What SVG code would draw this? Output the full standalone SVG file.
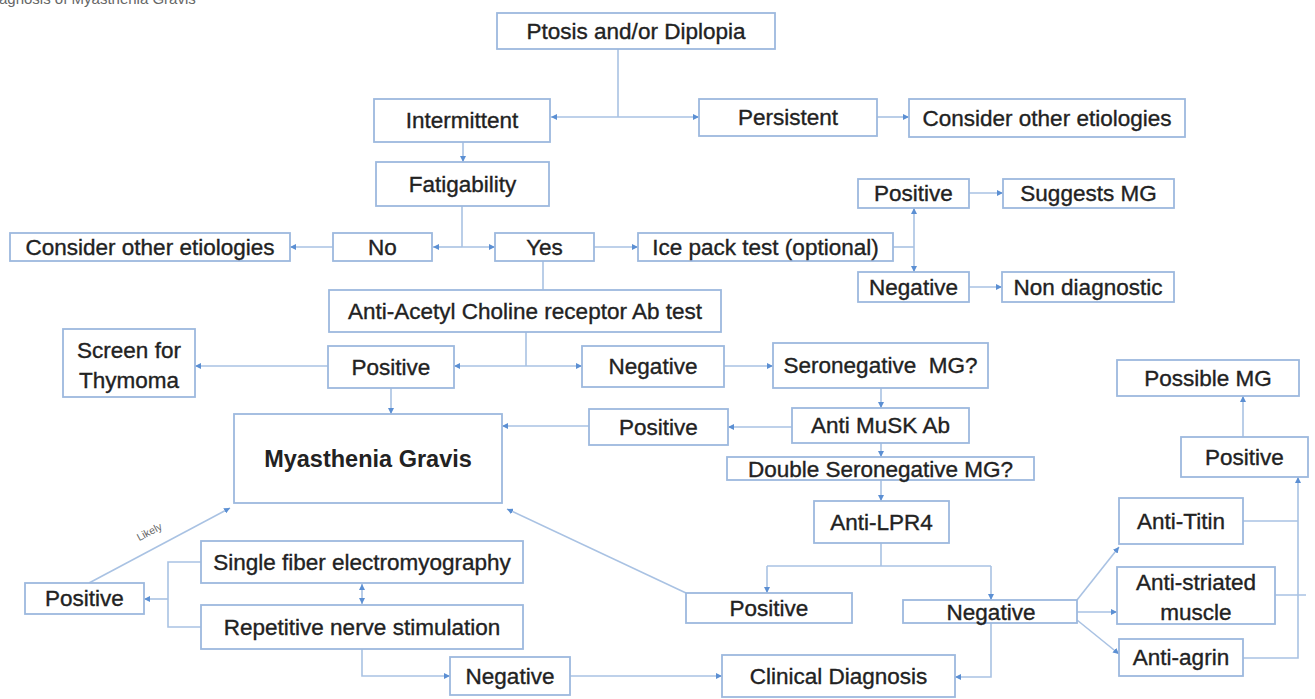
<svg xmlns="http://www.w3.org/2000/svg" width="1315" height="699" viewBox="0 0 1315 699">
<style>
.box{fill:#fff;stroke:#9db9de;stroke-width:1.8}
.t{font-family:"Liberation Sans",Arial,sans-serif;font-size:22.5px;fill:#222;stroke:#222;stroke-width:0.35;text-anchor:middle}
.b{font-weight:bold;font-size:23.5px;stroke-width:0}
.c{fill:none;stroke:#a9c2e3;stroke-width:1.6}
.a{marker-end:url(#arr)}
.title{font-family:"Liberation Sans",Arial,sans-serif;font-size:15px;fill:#666}
.lbl{font-family:"Liberation Sans",Arial,sans-serif;font-size:10.5px;fill:#666;text-anchor:middle}
</style>
<defs>
<marker id="arr" viewBox="0 0 8 8" refX="8" refY="4" markerWidth="6" markerHeight="6" markerUnits="userSpaceOnUse" orient="auto-start-reverse">
<path d="M0,0 L8,4 L0,8 z" fill="#5b8fd3"/>
</marker>
</defs>
<rect width="1315" height="699" fill="#fff"/>
<text class="title" x="-1" y="4">agnosis of Myasthenia Gravis</text>

<g id="connectors">
<path class="c" d="M618,49 V117"/>
<path class="c a" d="M618,117 H551"/>
<path class="c a" d="M618,117 H699"/>
<path class="c a" d="M877,117 H909"/>
<path class="c a" d="M463,142 V162"/>
<path class="c" d="M462,206 V247"/>
<path class="c a" d="M462,247 H433"/>
<path class="c a" d="M462,247 H495"/>
<path class="c a" d="M333,247 H290"/>
<path class="c a" d="M594,247 H638"/>
<path class="c" d="M893,247 H914"/>
<path class="c a" d="M914,247 V208"/>
<path class="c a" d="M914,247 V272"/>
<path class="c a" d="M969,193 H1003"/>
<path class="c a" d="M969,287 H1002"/>
<path class="c" d="M543,261 V290"/>
<path class="c" d="M526,332 V366"/>
<path class="c a" d="M526,366 H454"/>
<path class="c a" d="M526,366 H582"/>
<path class="c a" d="M328,366 H195"/>
<path class="c a" d="M391,388 V414"/>
<path class="c a" d="M724,366 H773"/>
<path class="c a" d="M881,388 V408"/>
<path class="c a" d="M792,427 H728"/>
<path class="c a" d="M589,426 H502"/>
<path class="c a" d="M881,443 V457"/>
<path class="c a" d="M881,480 V501"/>
<path class="c" d="M881,543 V566 M767,566 H991"/>
<path class="c a" d="M767,566 V593"/>
<path class="c a" d="M991,566 V600"/>
<path class="c a" d="M686,593 L507,509"/>
<path class="c a" d="M89,583 L230,508"/>
<path class="c" d="M201,562 H168 V627 H201"/>
<path class="c a" d="M168,599 H144"/>
<path class="c" d="M362,584 V604" marker-start="url(#arr)" marker-end="url(#arr)"/>
<path class="c a" d="M362,649 V676 H450"/>
<path class="c a" d="M570,676 H722"/>
<path class="c a" d="M991,623 V677 H955"/>
<path class="c a" d="M1077,600 L1119,547"/>
<path class="c a" d="M1077,612 H1117"/>
<path class="c a" d="M1077,620 L1119,654"/>
<path class="c" d="M1243,521 H1298 M1275,595 H1306"/>
<path class="c a" d="M1243,658 H1298 V477"/>
<path class="c a" d="M1243,437 V396"/>
<text class="lbl" transform="translate(151,535) rotate(-28)">Likely</text>
</g>

<g id="ptosis"><rect class="box" x="497" y="13" width="278" height="36"/><text class="t" x="636" y="38.5">Ptosis and/or Diplopia</text></g>
<g id="intermittent"><rect class="box" x="374" y="99" width="176" height="43"/><text class="t" x="462" y="128">Intermittent</text></g>
<g id="persistent"><rect class="box" x="699" y="99" width="178" height="37"/><text class="t" x="788" y="125">Persistent</text></g>
<g id="consider-right"><rect class="box" x="909" y="99" width="276" height="38"/><text class="t" x="1047" y="125.5">Consider other etiologies</text></g>
<g id="fatigability"><rect class="box" x="376" y="162" width="173" height="44"/><text class="t" x="462.5" y="191.5">Fatigability</text></g>
<g id="consider-left"><rect class="box" x="10" y="233" width="280" height="28"/><text class="t" x="150" y="254.5">Consider other etiologies</text></g>
<g id="no"><rect class="box" x="333" y="233" width="99" height="28"/><text class="t" x="382.5" y="254.5">No</text></g>
<g id="yes"><rect class="box" x="495" y="233" width="99" height="28"/><text class="t" x="544.5" y="254.5">Yes</text></g>
<g id="ice-pack"><rect class="box" x="638" y="233" width="255" height="28"/><text class="t" x="765.5" y="254.5">Ice pack test (optional)</text></g>
<g id="ice-positive"><rect class="box" x="858" y="179" width="111" height="29"/><text class="t" x="913.5" y="201">Positive</text></g>
<g id="suggests-mg"><rect class="box" x="1003" y="179" width="171" height="29"/><text class="t" x="1088.5" y="201">Suggests MG</text></g>
<g id="ice-negative"><rect class="box" x="858" y="272" width="111" height="30"/><text class="t" x="913.5" y="294.5">Negative</text></g>
<g id="non-diagnostic"><rect class="box" x="1002" y="272" width="172" height="30"/><text class="t" x="1088" y="294.5">Non diagnostic</text></g>
<g id="achr-test"><rect class="box" x="329" y="290" width="392" height="42"/><text class="t" x="525" y="318.5">Anti-Acetyl Choline receptor Ab test</text></g>
<g id="achr-positive"><rect class="box" x="328" y="346" width="126" height="42"/><text class="t" x="391" y="374.5">Positive</text></g>
<g id="achr-negative"><rect class="box" x="582" y="346" width="142" height="41"/><text class="t" x="653" y="374">Negative</text></g>
<g id="screen-thymoma"><rect class="box" x="63" y="329" width="132" height="68"/><text class="t" x="129" y="357.5">Screen for</text><text class="t" x="129" y="387.5">Thymoma</text></g>
<g id="seronegative"><rect class="box" x="773" y="343" width="215" height="45"/><text class="t" x="880.5" y="373" style="white-space:pre">Seronegative  MG?</text></g>
<g id="myasthenia-gravis"><rect class="box" x="234" y="414" width="268" height="89"/><text class="t b" x="368" y="467">Myasthenia Gravis</text></g>
<g id="musk-positive"><rect class="box" x="589" y="409" width="139" height="36"/><text class="t" x="658.5" y="434.5">Positive</text></g>
<g id="musk"><rect class="box" x="792" y="408" width="177" height="35"/><text class="t" x="880.5" y="433">Anti MuSK Ab</text></g>
<g id="double-seronegative"><rect class="box" x="727" y="457" width="307" height="23"/><text class="t" x="880.5" y="477">Double Seronegative MG?</text></g>
<g id="lpr4"><rect class="box" x="814" y="501" width="135" height="42"/><text class="t" x="881.5" y="529.5">Anti-LPR4</text></g>
<g id="lpr4-positive"><rect class="box" x="686" y="593" width="166" height="30"/><text class="t" x="769" y="616">Positive</text></g>
<g id="lpr4-negative"><rect class="box" x="903" y="600" width="174" height="23"/><text class="t" x="991" y="620">Negative</text></g>
<g id="single-fiber"><rect class="box" x="201" y="541" width="322" height="42"/><text class="t" x="362" y="569.5">Single fiber electromyography</text></g>
<g id="repetitive"><rect class="box" x="201" y="605" width="322" height="44"/><text class="t" x="362" y="634.5">Repetitive nerve stimulation</text></g>
<g id="emg-positive"><rect class="box" x="25" y="583" width="119" height="31"/><text class="t" x="84.5" y="606">Positive</text></g>
<g id="emg-negative"><rect class="box" x="450" y="657" width="120" height="38"/><text class="t" x="510" y="683.5">Negative</text></g>
<g id="clinical-diagnosis"><rect class="box" x="722" y="655" width="233" height="42"/><text class="t" x="838.5" y="683.5">Clinical Diagnosis</text></g>
<g id="anti-titin"><rect class="box" x="1119" y="498" width="124" height="46"/><text class="t" x="1181" y="528.5">Anti-Titin</text></g>
<g id="anti-striated"><rect class="box" x="1117" y="567" width="158" height="57"/><text class="t" x="1196" y="589.5">Anti-striated</text><text class="t" x="1196" y="619.5">muscle</text></g>
<g id="anti-agrin"><rect class="box" x="1119" y="639" width="124" height="37"/><text class="t" x="1181" y="665">Anti-agrin</text></g>
<g id="right-positive"><rect class="box" x="1181" y="437" width="127" height="40"/><text class="t" x="1244.5" y="464.5">Positive</text></g>
<g id="possible-mg"><rect class="box" x="1117" y="360" width="182" height="36"/><text class="t" x="1208" y="385.5">Possible MG</text></g>
</svg>
